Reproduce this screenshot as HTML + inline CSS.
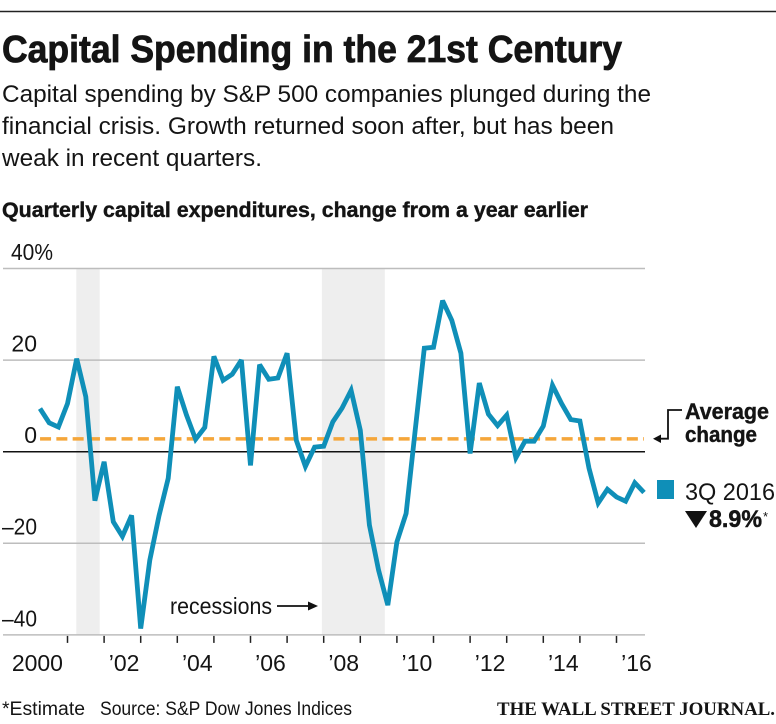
<!DOCTYPE html>
<html lang="en">
<head>
<meta charset="utf-8">
<title>Capital Spending in the 21st Century</title>
<style>
html,body{margin:0;padding:0;background:#fff;}
svg{display:block;}
text{font-family:"Liberation Sans",sans-serif;fill:#141414;}
</style>
</head>
<body>
<svg id="chart" xmlns="http://www.w3.org/2000/svg" width="776" height="724" viewBox="0 0 776 724">
  <rect x="0" y="0" width="776" height="724" fill="#fff"/>
  <line x1="0" x2="776" y1="11.5" y2="11.5" stroke="#222" stroke-width="1.5"/>
  <text x="2" y="62" font-size="38" font-weight="700" textLength="620" lengthAdjust="spacingAndGlyphs" stroke="#141414" stroke-width="0.8">Capital Spending in the 21st Century</text>
  <text x="2" y="102" font-size="24" textLength="649" lengthAdjust="spacingAndGlyphs">Capital spending by S&amp;P 500 companies plunged during the</text>
  <text x="2" y="134" font-size="24" textLength="612" lengthAdjust="spacingAndGlyphs">financial crisis. Growth returned soon after, but has been</text>
  <text x="2" y="166" font-size="24" textLength="260" lengthAdjust="spacingAndGlyphs">weak in recent quarters.</text>
  <text x="2" y="217" font-size="21" font-weight="700" textLength="586" lengthAdjust="spacingAndGlyphs" stroke="#141414" stroke-width="0.4">Quarterly capital expenditures, change from a year earlier</text>

  <g id="recessions"></g>
  <g id="grid"></g>
  <g id="ylabels"></g>
  <g id="ticks"></g>
  <g id="xlabels"></g>
  <g id="marks"></g>

  <text x="170" y="614" font-size="23" textLength="102" lengthAdjust="spacingAndGlyphs">recessions</text>
  <g>
    <line x1="277" x2="313" y1="606" y2="606" stroke="#111" stroke-width="1.8"/>
    <polygon points="318,606 308,601.5 308,610.5" fill="#111"/>
  </g>

  <g>
    <polyline points="682,410 668,410 668,438.7 657,438.7" fill="none" stroke="#111" stroke-width="1.8"/>
    <polygon points="653,438.7 661,434.5 661,443" fill="#111"/>
  </g>
  <text x="685" y="419" font-size="22" font-weight="700" textLength="84" lengthAdjust="spacingAndGlyphs" stroke="#141414" stroke-width="0.4">Average</text>
  <text x="685" y="442" font-size="22" font-weight="700" textLength="72" lengthAdjust="spacingAndGlyphs" stroke="#141414" stroke-width="0.4">change</text>

  <rect x="657" y="480" width="17" height="19" fill="#0f8fb8"/>
  <text x="685" y="500" font-size="24" textLength="90" lengthAdjust="spacingAndGlyphs">3Q 2016</text>
  <polygon points="685,511 707,511 696,528" fill="#111"/>
  <text x="709" y="527" font-size="24" font-weight="700" textLength="53" lengthAdjust="spacingAndGlyphs" stroke="#141414" stroke-width="0.5">8.9%</text>
  <text x="763" y="521" font-size="13">*</text>

  <text x="2" y="715" font-size="19" textLength="83" lengthAdjust="spacingAndGlyphs">*Estimate</text>
  <text x="100" y="715" font-size="19" textLength="252" lengthAdjust="spacingAndGlyphs">Source: S&amp;P Dow Jones Indices</text>
  <text x="497" y="715" font-size="19" font-weight="700" textLength="278" lengthAdjust="spacingAndGlyphs" style="font-family:'Liberation Serif',serif">THE WALL STREET JOURNAL.</text>
</svg>
<script>
const startYear = 2000;
const capexChange = [
  9.4, 6.3, 5.4, 10.5,
  20.3, 12, -10.7, -2.2,
  -15.3, -18.5, -13.9, -38.6,
  -23.7, -14, -5.8, 14.2,
  8, 2.7, 5.3, 20.8,
  15.6, 16.9, 20, -3,
  19, 15.8, 16.1, 21.5,
  2.5, -3.2, 1, 1.2,
  6.5, 9.5, 13.4, 4.7,
  -16, -25.9, -33.5, -19.7,
  -13.5, 4.7, 22.6, 22.8,
  33, 28.7, 21.5, -0.4,
  15, 8.2, 5.7, 8,
  -1.3, 2.3, 2.3, 5.6,
  14.5, 10.5, 7, 6.7,
  -3.6, -11.2, -8.2, -9.9,
  -10.8, -6.8, -8.9
];
const averageChange = [2.8];
const yTicks = [40, 20, 0, -20, -40];
const yTickLabels = ['40%', '20', '0', '–20', '–40'];
const xTickYears = [2001, 2002, 2003, 2004, 2005, 2006, 2007, 2008, 2009, 2010, 2011, 2012, 2013, 2014, 2015, 2016];
const xLabelYears = [2002, 2004, 2006, 2008, 2010, 2012, 2014, 2016];
const xLabels = ["’02", "’04", "’06", "’08", "’10", "’12", "’14", "’16"];
const firstLabelYear = [2000];
const firstLabelText = ['2000'];
const recessionStarts = [2001.24, 2007.95];
const recessionEnds = [2001.88, 2009.67];

const NS = 'http://www.w3.org/2000/svg';
const PX_PER_YEAR = 36.6;
const X0 = 30.9;
const Y_ZERO = 451.7;
const PX_PER_PCT = 4.58;
const GRID_LEFT = 3;
const GRID_RIGHT = 645;

function xYear(year) { return X0 + (year - startYear) * PX_PER_YEAR; }
function xQuarter(i) { return xYear(startYear + (i + 1) / 4); }
function yVal(v) { return Y_ZERO - v * PX_PER_PCT; }
function make(tag, attrs, parent) {
  const el = document.createElementNS(NS, tag);
  for (const k in attrs) el.setAttribute(k, attrs[k]);
  parent.appendChild(el);
  return el;
}

const recG = document.getElementById('recessions');
recessionStarts.forEach(function (s, i) {
  const el = make('rect', { x: xYear(s), y: yVal(40), width: xYear(recessionEnds[i]) - xYear(s), height: yVal(-40) - yVal(40), fill: '#eeeeee' }, recG);
  
  
});

const gridG = document.getElementById('grid');
yTicks.forEach(function (t) {
  const el = make('line', { x1: GRID_LEFT, x2: GRID_RIGHT, y1: yVal(t), y2: yVal(t), stroke: '#bdbdbd', 'stroke-width': 1.5 }, gridG);
  
  
});

const ylG = document.getElementById('ylabels');
yTicks.forEach(function (t, i) {
  const label = yTickLabels[i];
  const attrs = { x: i === 0 ? 53 : 37, y: yVal(t) - 8.6, 'text-anchor': 'end', 'font-size': 23 };
  if (label.length === 3) {
    attrs.textLength = i === 0 ? 42 : 35;
    attrs.lengthAdjust = 'spacingAndGlyphs';
  }
  const el = make('text', attrs, ylG);
  el.textContent = label;
  
  
});

const tickG = document.getElementById('ticks');
xTickYears.forEach(function (yr) {
  const el = make('line', { x1: xYear(yr), x2: xYear(yr), y1: yVal(-40) + 1, y2: yVal(-40) + 8, stroke: '#222', 'stroke-width': 1.5 }, tickG);
  
  
});

const xlG = document.getElementById('xlabels');
const firstLabel = make('text', { x: xYear(firstLabelYear[0]) + 6.5, y: 671, 'text-anchor': 'middle', 'font-size': 23 }, xlG);
firstLabel.textContent = firstLabelText[0];


xLabelYears.forEach(function (yr, i) {
  const el = make('text', { x: xYear(yr) + 20, y: 671, 'text-anchor': 'middle', 'font-size': 23 }, xlG);
  el.textContent = xLabels[i];
  
  
});

const marks = document.getElementById('marks');
const zero = make('line', { x1: GRID_LEFT, x2: GRID_RIGHT, y1: yVal(0), y2: yVal(0), stroke: '#111', 'stroke-width': 1.5 }, marks);



const avg = make('line', { x1: xQuarter(0), x2: xQuarter(capexChange.length - 1), y1: yVal(averageChange[0]), y2: yVal(averageChange[0]), stroke: '#f5a63a', 'stroke-width': 3.5, 'stroke-dasharray': '11 5.3' }, marks);



const pts = capexChange.map(function (v, i) { return xQuarter(i).toFixed(1) + ',' + yVal(v).toFixed(1); }).join(' ');
const line = make('polyline', { points: pts, fill: 'none', stroke: '#0f8fb8', 'stroke-width': 4.8, 'stroke-linejoin': 'miter', 'stroke-miterlimit': 3 }, marks);


</script>
</body>
</html>
